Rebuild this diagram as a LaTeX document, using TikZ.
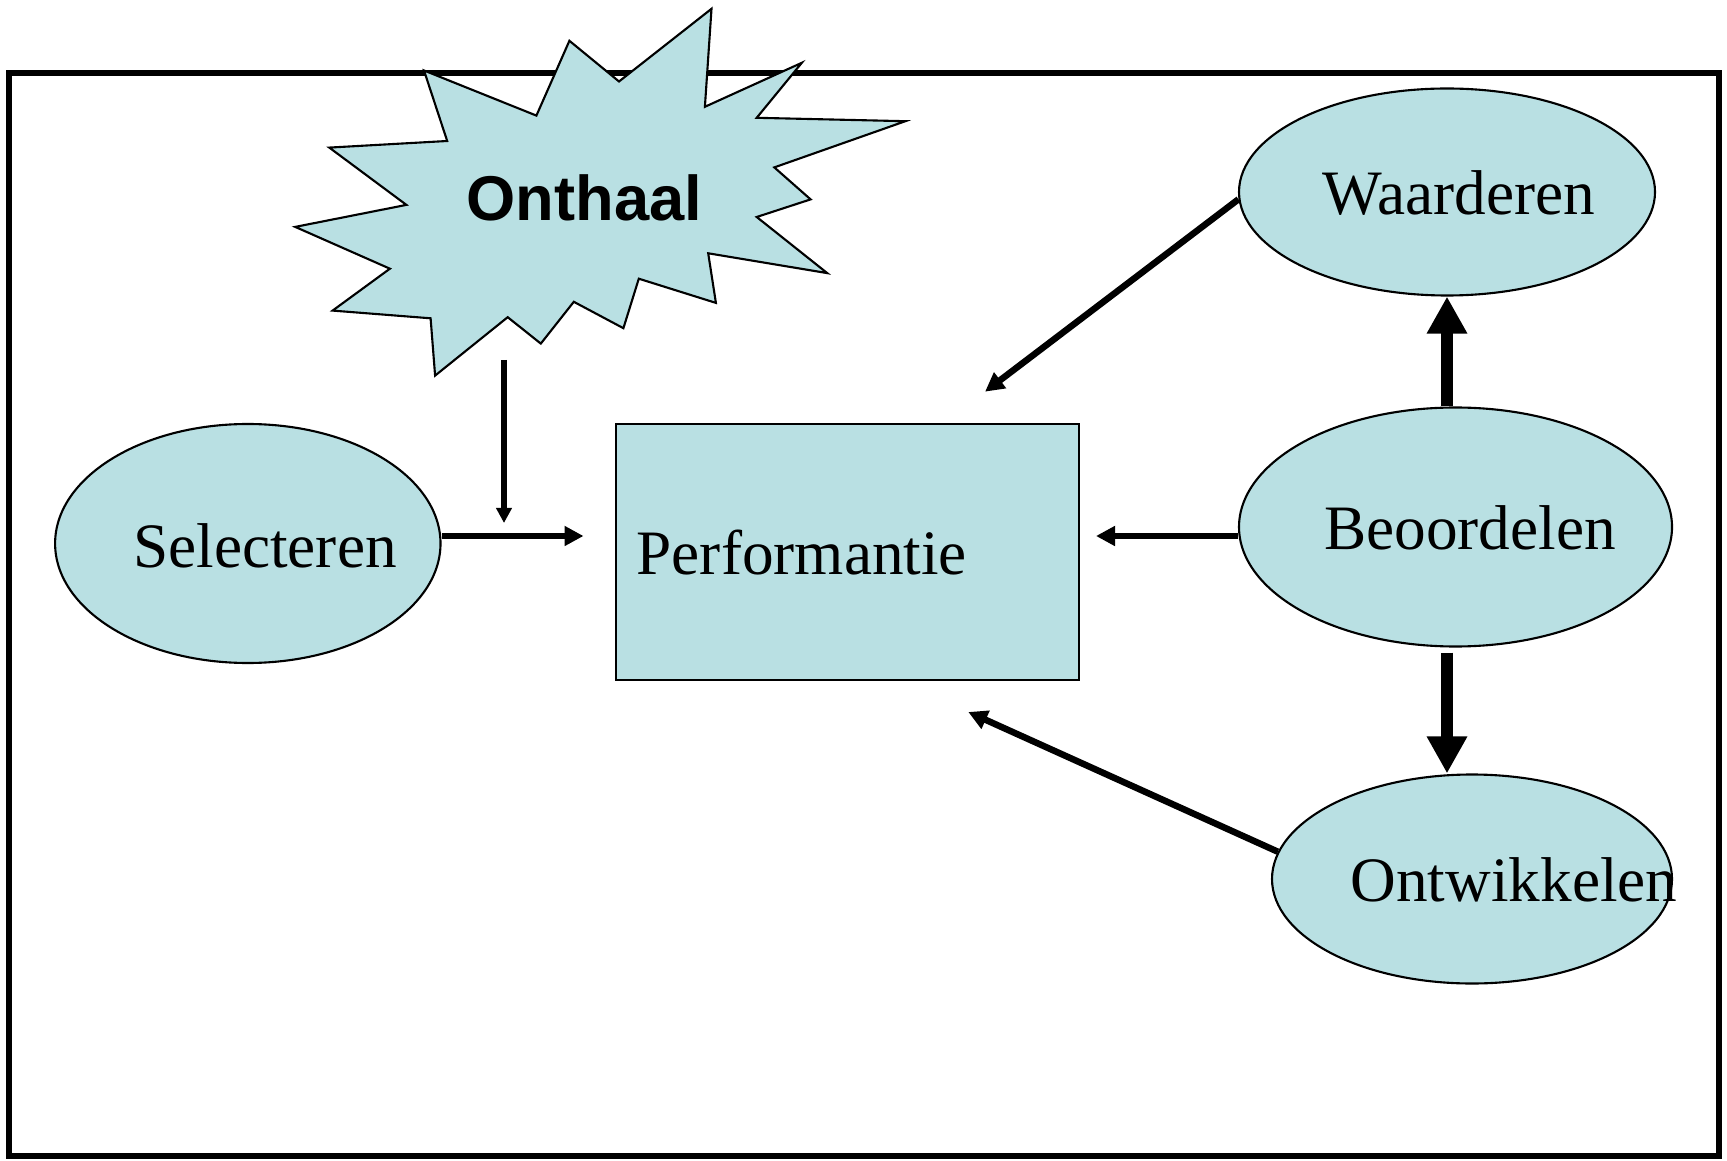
\documentclass[tikz,border=0pt]{standalone}
\usepackage{fontspec}
\setmainfont{Liberation Serif}
\newfontfamily\ppsans{Liberation Sans}
\usetikzlibrary{positioning, arrows.meta, shapes.geometric, calc}
\definecolor{ppcyan}{HTML}{B9E0E3}

\begin{document}
\begin{tikzpicture}[
    font=\fontsize{18}{21}\selectfont,
    % ---- shared styles ---------------------------------------------------
    frame/.style={draw=black, line width=1.45pt},
    blob/.style={ellipse, draw=black, fill=ppcyan, line width=0.6pt,
                 inner sep=0pt},
    perfbox/.style={rectangle, draw=black, fill=ppcyan, line width=0.6pt,
                    inner sep=0pt},
    word/.style={anchor=base, inner sep=0pt},
    flow/.style={-{Triangle[width=1.9mm, length=1.9mm]}, line width=1.85pt},
    drop/.style={-{Triangle[width=1.5mm, length=1.5mm]}, line width=1.85pt},
    push/.style={-{Triangle[width=3.8mm, length=3.7mm]}, line width=3.6pt},
  ]
\useasboundingbox (0,0) rectangle (17.27,11.60);

% =========================================================================
% FRAME
% =========================================================================
\draw[frame] (0.09,0.04) rectangle (17.19,10.87);

% =========================================================================
% TOP LEFT -- the Onthaal burst
% =========================================================================
\filldraw[draw=black, fill=ppcyan, line width=0.6pt, line join=miter]
  (4.240,10.895) -- (5.364,10.444) -- (5.694,11.192) -- (6.190,10.785)
  -- (7.115,11.512) -- (7.049,10.532) -- (8.018,10.972) -- (7.567,10.422)
  -- (9.054,10.388) -- (7.743,9.926) -- (8.106,9.606) -- (7.567,9.430)
  -- (8.272,8.869) -- (7.082,9.067) -- (7.159,8.571) -- (6.388,8.813)
  -- (6.234,8.318) -- (5.738,8.582) -- (5.408,8.164) -- (5.077,8.428)
  -- (4.351,7.844) -- (4.306,8.417) -- (3.326,8.494) -- (3.899,8.913)
  -- (2.952,9.331) -- (4.064,9.551) -- (3.293,10.124) -- (4.472,10.190)
  -- cycle;
\node[word, font=\ppsans\bfseries\fontsize{18}{21}\selectfont] (onthaal)
  at (5.845,9.39) {Onthaal};

% =========================================================================
% CENTRE -- Selecteren feeding Performantie
% =========================================================================
\node[blob, minimum width=3.854cm, minimum height=2.39cm] (select) at (2.478,6.165) {};
\node[word] (selecttxt) at (2.65,5.93) {Selecteren};

\node[perfbox, minimum width=4.637cm, minimum height=2.556cm] (perf) at (8.475,6.082) {};
\node[word, anchor=base west] (perftxt) at (6.36,5.85) {Performantie};

% =========================================================================
% RIGHT -- the three ellipses
% =========================================================================
\node[blob, minimum width=4.16cm, minimum height=2.07cm] (waard) at (14.47,9.68) {};
\node[word] (waardtxt) at (14.59,9.45) {Waarderen};

\node[blob, minimum width=4.33cm, minimum height=2.39cm] (beoord) at (14.555,6.33) {};
\node[word] (beoordtxt) at (14.70,6.10) {Beoordelen};

\node[blob, minimum width=4.00cm, minimum height=2.09cm] (ontw) at (14.72,2.81) {};
\node[word] (ontwtxt) at (15.14,2.59) {Ontwikkelen};

% free ends of the connectors, just short of the box
\coordinate (burstfoot) at (5.04,8.00);
\coordinate (droptip)   at (5.04,6.37);
\coordinate (perfin)    at (5.835,6.24);
\coordinate (perfout)   at (10.96,6.24);
\coordinate (perfne)    at (9.85,7.683);
\coordinate (perfse)    at (9.683,4.48);

% =========================================================================
% CONNECTORS
% =========================================================================
\draw[drop] (burstfoot) -- (droptip);
\draw[flow] (select.east |- perfin) -- (perfin);
\draw[flow] (beoord.west |- perfout) -- (perfout);
\draw[flow] (waard.182) -- (perfne);
\draw[flow] (ontw.172) -- (perfse);

\draw[push] (beoord.north -| waard.south) -- (waard.south);
\draw[push, shorten <=0.5mm] (beoord.south -| waard.south) -- (ontw.north -| waard.south);

\end{tikzpicture}
\end{document}
